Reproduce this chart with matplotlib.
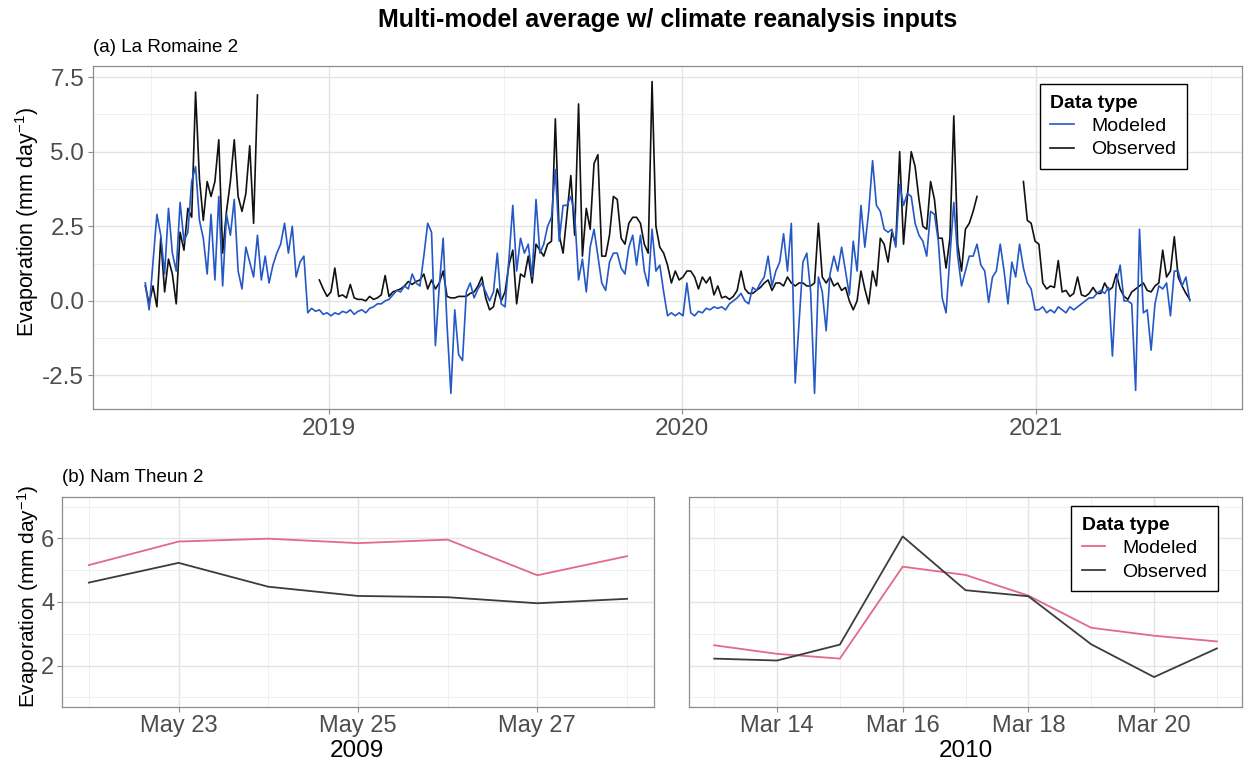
import matplotlib.pyplot as plt
import matplotlib.dates as mdates
import numpy as np
import pandas as pd
from matplotlib.ticker import FixedLocator, FuncFormatter

plt.switch_backend("Agg")

plt.rcParams["font.family"] = ["Liberation Sans", "DejaVu Sans"]
plt.rcParams["mathtext.fontset"] = "custom"
plt.rcParams["mathtext.rm"] = "Liberation Sans"
plt.rcParams["mathtext.it"] = "Liberation Sans:italic"
plt.rcParams["axes.unicode_minus"] = False

BLUE = "#2458c6"
PINK = "#e16a86"
OBS_TOP = "#111111"
OBS_LOW = "#3c3c3c"
GRID_MAJOR = "#e4e4e4"
GRID_MINOR = "#f0f0f0"
FRAME = "#8c8c8c"
TICK_TEXT = "#4d4d4d"

# (a) La Romaine 2 -- one value every 4 days from 2018-06-25
romaine_start = "2018-06-25"
romaine_step_days = 4
romaine_modeled = [
    0.6, -0.3, 1.3, 2.9, 2.2, 0.9, 3.1, 1.6, 1.0, 3.3,
    2.0, 2.3, 4.0, 4.5, 2.7, 2.1, 0.9, 2.9, 0.7, 3.5,
    0.5, 2.9, 2.2, 3.4, 1.0, 0.4, 1.8, 1.3, 0.8, 2.2,
    0.7, 1.5, 0.6, 1.2, 1.6, 1.9, 2.6, 1.6, 2.5, 0.8,
    1.3, 1.5, -0.4, -0.25, -0.35, -0.3, -0.45, -0.4, -0.5, -0.4,
    -0.45, -0.35, -0.4, -0.3, -0.45, -0.35, -0.3, -0.4, -0.25, -0.2,
    -0.1, -0.1, 0.0, 0.05, 0.2, 0.35, 0.3, 0.5, 0.4, 0.9,
    0.6, 0.5, 1.5, 2.6, 2.3, -1.5, 0.5, 2.1, -0.8, -3.1,
    -0.3, -1.8, -2.0, 0.3, 0.6, 0.1, 0.4, 0.6, 0.3, 0.0,
    0.3, 1.6, -0.1, -0.2, 1.4, 3.2, 1.0, 2.1, 1.6, 1.9,
    0.8, 3.4, 1.6, 1.9, 2.5, 2.8, 4.4, 2.0, 3.2, 3.2,
    3.5, 2.9, 0.7, 1.4, 0.3, 1.8, 2.4, 1.5, 0.6, 0.35,
    1.3, 1.6, 1.6, 1.1, 0.9, 1.8, 2.2, 1.2, 2.2, 1.0,
    0.5, 2.4, 1.0, 1.2, 0.3, -0.5, -0.4, -0.5, -0.4, -0.5,
    0.6, -0.4, -0.5, -0.35, -0.4, -0.25, -0.3, -0.2, -0.25, -0.2,
    -0.3, -0.1, 0.0, 0.1, 0.25, 0.0, -0.1, 0.45, 0.35, 0.6,
    0.8, 1.5, 0.5, 1.0, 1.3, 2.25, 1.0, 2.6, -2.75, -0.7,
    1.3, 1.6, 0.3, -3.1, 0.8, 0.3, -1.0, 0.9, 1.5, 1.0,
    1.8, 1.0, 0.2, 2.0, 1.0, 3.2, 1.8, 3.0, 4.7, 3.2,
    3.0, 2.4, 2.3, 2.4, 1.8, 3.9, 3.2, 3.6, 3.5, 2.6,
    2.2, 2.0, 1.5, 3.0, 2.9, 2.0, 0.1, -0.4, 1.5, 3.3,
    1.5, 0.5, 1.0, 1.5, 1.5, 1.9, 1.2, 1.0, -0.05, 0.8,
    1.0, 1.9, 1.0, -0.1, 1.3, 0.8, 1.9, 1.1, 0.6, 0.4,
    -0.3, -0.3, -0.2, -0.4, -0.3, -0.4, -0.2, -0.3, -0.4, -0.2,
    -0.3, -0.2, -0.1, 0.0, 0.1, 0.1, 0.25, 0.35, 0.25, 0.45,
    -1.85, 0.6, 1.2, 0.0, 0.0, -0.1, -3.0, 2.4, -0.4, -0.3,
    -1.65, -0.1, 0.5, 0.4, 0.6, -0.5, 1.0, 1.0, 0.5, 0.8,
    0.0,
]
# None marks days without an observation
romaine_observed = [
    0.5, -0.1, 0.5, -0.2, 2.1, 0.3, 1.4, 0.9, -0.1, 2.3,
    1.7, 3.1, 2.8, 7.0, 4.1, 2.7, 4.0, 3.5, 4.0, 5.4,
    1.6, 3.0, 4.0, 5.4, 3.5, 3.0, 3.6, 5.2, 2.6, 6.9,
    None, None, None, None, None, None, None, None, None, None,
    None, None, None, None, None, 0.7, 0.4, 0.15, 0.3, 1.1,
    0.15, 0.2, 0.1, 0.55, 0.1, 0.05, 0.05, 0.0, 0.15, 0.05,
    0.1, 0.2, 0.85, 0.15, 0.3, 0.35, 0.4, 0.5, 0.65, 0.55,
    0.65, 0.7, 0.9, 0.4, 0.7, 0.4, 0.6, 1.0, 0.15, 0.1,
    0.1, 0.15, 0.15, 0.15, 0.25, 0.3, 0.5, 0.8, 0.1, -0.3,
    -0.2, 0.4, 0.0, 0.3, 1.2, 1.7, -0.1, 0.9, 0.8, 1.5,
    0.6, 1.9, 1.7, 1.5, 1.9, 2.0, 6.1, 2.2, 1.6, 2.9,
    4.2, 2.2, 6.6, 1.5, 3.1, 2.4, 4.6, 4.9, 1.5, 1.5,
    2.2, 3.5, 3.4, 2.1, 1.9, 2.6, 2.8, 2.8, 2.6, 1.9,
    1.6, 7.35, 2.5, 1.8, 1.6, 1.2, 0.6, 1.0, 0.7, 0.8,
    1.0, 1.0, 0.8, 0.4, 0.8, 0.6, 0.8, 0.2, 0.5, 0.1,
    0.15, 0.05, 0.15, 0.35, 1.0, 0.4, 0.25, 0.25, 0.35, 0.45,
    0.6, 0.7, 0.35, 0.6, 0.6, 0.5, 0.8, 0.6, 0.5, 0.6,
    0.6, 0.5, 0.5, 0.6, 2.6, 0.8, 0.6, 0.8, 0.5, 0.6,
    0.35, 0.45, 0.0, -0.3, 0.0, 1.0, 0.4, -0.1, 1.0, 0.5,
    2.1, 1.9, 1.3, 2.3, 1.9, 5.0, 1.9, 3.5, 5.0, 4.5,
    3.4, 2.5, 2.4, 4.0, 3.4, 2.1, 2.1, 1.1, 2.1, 6.2,
    1.9, 1.0, 2.4, 2.6, 3.0, 3.5, None, None, None, None,
    None, None, None, None, None, None, None, 4.0, 2.7, 2.6,
    2.0, 1.9, 0.6, 0.4, 0.5, 0.45, 1.35, 0.3, 0.35, 0.15,
    0.25, 0.8, 0.2, 0.15, 0.25, 0.45, 0.25, 0.25, 0.6, 0.35,
    0.45, 0.9, 0.4, 0.15, 0.05, 0.3, 0.4, 0.5, 0.6, 0.35,
    0.3, 0.5, 0.6, 1.7, 0.8, 1.0, 2.15, 0.8, 0.5, 0.25,
    0.05,
]

# (b) Nam Theun 2 -- daily values for two short periods
nt2009_days = pd.date_range("2009-05-22", "2009-05-28", freq="D")
nt2009_modeled = [5.16, 5.90, 5.99, 5.85, 5.96, 4.84, 5.44]
nt2009_observed = [4.61, 5.23, 4.48, 4.19, 4.15, 3.96, 4.10]

nt2010_days = pd.date_range("2010-03-13", "2010-03-21", freq="D")
nt2010_modeled = [2.64, 2.37, 2.22, 5.11, 4.85, 4.20, 3.19, 2.94, 2.76]
nt2010_observed = [2.22, 2.16, 2.66, 6.06, 4.37, 4.18, 2.67, 1.64, 2.54]

romaine_days = pd.date_range(romaine_start, periods=len(romaine_modeled),
                             freq=f"{romaine_step_days}D")
romaine_obs = np.array(romaine_observed, dtype=float)


def style_panel(ax, labelsize=17, pad=3):
    ax.set_axisbelow(True)
    ax.grid(which="major", color=GRID_MAJOR, linewidth=1.0)
    ax.grid(which="minor", color=GRID_MINOR, linewidth=0.7)
    for spine in ax.spines.values():
        spine.set_color(FRAME)
        spine.set_linewidth(0.9)
    ax.tick_params(which="major", color=FRAME, length=3.5, width=0.8,
                   labelsize=labelsize, labelcolor=TICK_TEXT, pad=pad)
    ax.tick_params(which="minor", length=0)


def add_legend(ax, handles, anchor):
    leg = ax.legend(handles, [h.get_label() for h in handles],
                    title="Data type", loc="upper right", bbox_to_anchor=anchor,
                    borderaxespad=0, frameon=True, fancybox=False,
                    edgecolor="black", fontsize=14, title_fontsize=14,
                    handlelength=1.2, handletextpad=0.9, labelspacing=0.3,
                    borderpad=0.55, alignment="left", framealpha=1)
    leg.get_title().set_fontweight("bold")
    leg.get_frame().set_linewidth(1.0)
    return leg


fig = plt.figure(figsize=(12.44, 7.61), dpi=100)

# ---- (a) La Romaine 2 ----
ax_a = fig.add_axes([0.0748, 0.4626, 0.9236, 0.4507])
obs_a, = ax_a.plot(romaine_days, romaine_obs, color=OBS_TOP, linewidth=1.2,
                   label="Observed", zorder=2)
mod_a, = ax_a.plot(romaine_days, romaine_modeled, color=BLUE, linewidth=1.2,
                   label="Modeled", zorder=3)
ax_a.margins(x=0.05, y=0.05)
ax_a.xaxis.set_major_locator(mdates.YearLocator())
ax_a.xaxis.set_minor_locator(mdates.MonthLocator(bymonth=7))
ax_a.xaxis.set_major_formatter(mdates.DateFormatter("%Y"))
ax_a.yaxis.set_major_locator(FixedLocator([-2.5, 0.0, 2.5, 5.0, 7.5]))
ax_a.yaxis.set_minor_locator(FixedLocator([-1.25, 1.25, 3.75, 6.25]))
ax_a.yaxis.set_major_formatter(FuncFormatter(lambda v, _: f"{v:.1f}"))
style_panel(ax_a, labelsize=17.5)
add_legend(ax_a, [mod_a, obs_a], (0.952, 0.948))

# ---- (b) Nam Theun 2, 2009 ----
ax_b1 = fig.add_axes([0.0498, 0.0710, 0.4759, 0.2759])
ax_b1.plot(nt2009_days, nt2009_modeled, color=PINK, linewidth=1.3, label="Modeled")
ax_b1.plot(nt2009_days, nt2009_observed, color=OBS_LOW, linewidth=1.3, label="Observed")
ax_b1.margins(x=0.05)
ax_b1.set_ylim(0.7, 7.3)
ax_b1.xaxis.set_major_locator(mdates.DayLocator(bymonthday=[23, 25, 27]))
ax_b1.xaxis.set_minor_locator(mdates.DayLocator())
ax_b1.xaxis.set_major_formatter(mdates.DateFormatter("%b %d"))
ax_b1.yaxis.set_major_locator(FixedLocator([2, 4, 6]))
ax_b1.yaxis.set_minor_locator(FixedLocator([1, 3, 5, 7]))
style_panel(ax_b1, pad=2)

# ---- (b) Nam Theun 2, 2010 ----
ax_b2 = fig.add_axes([0.5539, 0.0710, 0.4445, 0.2759])
mod_b, = ax_b2.plot(nt2010_days, nt2010_modeled, color=PINK, linewidth=1.3,
                    label="Modeled")
obs_b, = ax_b2.plot(nt2010_days, nt2010_observed, color=OBS_LOW, linewidth=1.3,
                    label="Observed")
ax_b2.margins(x=0.05)
ax_b2.set_ylim(0.7, 7.3)
ax_b2.xaxis.set_major_locator(mdates.DayLocator(bymonthday=[14, 16, 18, 20]))
ax_b2.xaxis.set_minor_locator(mdates.DayLocator())
ax_b2.xaxis.set_major_formatter(mdates.DateFormatter("%b %d"))
ax_b2.yaxis.set_major_locator(FixedLocator([2, 4, 6]))
ax_b2.yaxis.set_minor_locator(FixedLocator([1, 3, 5, 7]))
style_panel(ax_b2, pad=2)
ax_b2.tick_params(axis="y", which="both", left=False, labelleft=False)
add_legend(ax_b2, [mod_b, obs_b], (0.957, 0.957))

# ---- texts ----
fig.text(0.537, 0.974, "Multi-model average w/ climate reanalysis inputs",
         ha="center", va="center", fontsize=18, fontweight="bold")
fig.text(93 / 1244, 1 - 47 / 761, "(a) La Romaine 2", ha="left", va="center",
         fontsize=13.5)
fig.text(62 / 1244, 1 - 478 / 761, "(b) Nam Theun 2", ha="left", va="center",
         fontsize=13.5)
ylabel = r"Evaporation (mm day$^{-1}$)"
fig.text(27 / 1244, 1 - 222 / 761, ylabel, rotation=90, ha="center",
         va="center", fontsize=15.5)
fig.text(28 / 1244, 1 - 596 / 761, ylabel, rotation=90, ha="center",
         va="center", fontsize=15)
fig.text(357 / 1244, 1 - 751 / 761, "2009", ha="center", va="center",
         fontsize=17.5)
fig.text(966 / 1244, 1 - 751 / 761, "2010", ha="center", va="center",
         fontsize=17.5)

fig.savefig("out.png", dpi=100)
